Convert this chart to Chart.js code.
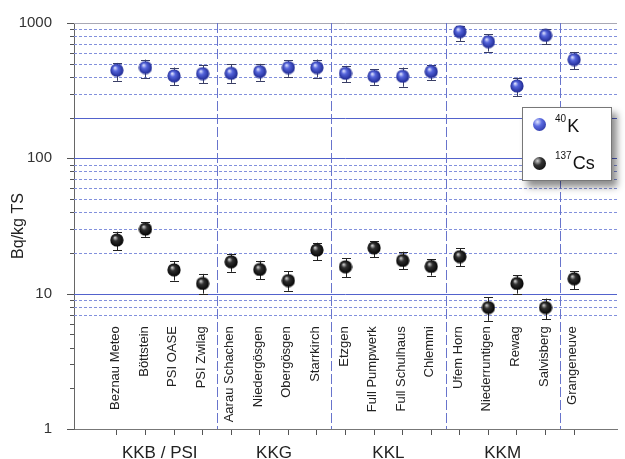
<!DOCTYPE html>
<html>
<head>
<meta charset="utf-8">
<script src="https://cdn.jsdelivr.net/npm/chart.js@4.4.0/dist/chart.umd.min.js"></script>
<style>
    body { margin: 0; background: #fff; }
    #wrap { position: relative; width: 625px; height: 459px; }
    .legend {
        position: absolute; left: 522px; top: 107px; width: 88px; height: 72px;
        background: #fff; border: 1px solid #777;
        box-shadow: 5px 6px 7px rgba(0, 0, 0, 0.45);
        font-family: "Liberation Sans", Arial, sans-serif; color: #111;
    }
    .legend .ball { position: absolute; width: 13px; height: 13px; border-radius: 50%; }
    .legend .txt { position: absolute; font-size: 18px; line-height: 18px; white-space: nowrap; }
    .legend sup { font-size: 10px; vertical-align: 0; position: relative; top: -10px; margin-right: 1px; }
</style>
</head>
<body>
<div id="wrap">
    <canvas id="chart" width="625" height="459"></canvas>
    <div class="legend">
        <div class="ball" style="left:10px;top:10px;background:radial-gradient(circle at 35% 30%, #dfe4ff 0%, #5a6ae0 35%, #1c2690 100%);"></div>
        <div class="txt" style="left:32px;top:9px;"><sup>40</sup>K</div>
        <div class="ball" style="left:10px;top:49px;background:radial-gradient(circle at 35% 30%, #d0d0d0 0%, #333 35%, #000 100%);"></div>
        <div class="txt" style="left:32px;top:46px;"><sup>137</sup>Cs</div>
    </div>
</div>
<script>
// categories (Messorte) and groups (Kernkraftwerke)
const categories = ['Beznau Meteo', 'Böttstein', 'PSI OASE', 'PSI Zwilag',
    'Aarau Schachen', 'Niedergösgen', 'Obergösgen', 'Starrkirch',
    'Etzgen', 'Full Pumpwerk', 'Full Schulhaus', 'Chlemmi',
    'Ufem Horn', 'Niederruntigen', 'Rewag', 'Salvisberg', 'Grangeneuve'];
const groups = ['KKB / PSI', 'KKG', 'KKL', 'KKM'];
const groupCenters = [1.5, 5.5, 9.5, 13.5];
const groupBreaks = [3.5, 7.5, 11.5, 15.5];

// 40K values with error range
const k40 = [448, 469, 407, 423, 425, 438, 469, 469, 425, 404, 404, 438, 863, 728, 343, 811, 537];
const k40Low = [374, 395, 347, 359, 361, 374, 400, 395, 365, 349, 338, 378, 737, 615, 288, 697, 456];
const k40High = [507, 537, 469, 488, 496, 499, 530, 537, 482, 456, 469, 488, 951, 825, 395, 903, 611];

// 137Cs values with error range
const cs137 = [24.9, 30, 15, 11.9, 17.2, 15.1, 12.5, 21, 15.8, 21.8, 17.6, 15.9, 18.8, 7.9, 11.9, 7.9, 12.9];
const cs137Low = [21, 26.3, 12.5, 10, 14.5, 12.8, 10.5, 17.7, 13.2, 18.6, 15.1, 13.6, 16, 6.3, 10, 6.5, 10.8];
const cs137High = [28.7, 33.6, 17.4, 14, 19.7, 17.5, 14.7, 23.8, 18.2, 24.4, 20.4, 17.9, 21.6, 9.4, 13.7, 9.2, 14.7];

// y axis ticks and grid lines
const yTicks = [1, 2, 3, 4, 5, 6, 7, 8, 9, 10, 20, 30, 40, 50, 60, 70, 80, 90,
    100, 200, 300, 400, 500, 600, 700, 800, 900, 1000];
const yLabels = [1, 10, 100, 1000];
const solidLines = [10, 100, 200];
const dottedLines = [7, 8, 9, 20, 30, 40, 50, 60, 70, 80, 90, 300, 400, 500, 600, 700, 800, 900];

const FONT = '"Liberation Sans", Arial, sans-serif';

// kugel als punkt
function makeBall(light, mid, dark) {
    const c = document.createElement('canvas');
    c.width = c.height = 14;
    const g = c.getContext('2d');
    const grad = g.createRadialGradient(5, 4.5, 0.3, 7, 7, 7);
    grad.addColorStop(0, light);
    grad.addColorStop(0.35, mid);
    grad.addColorStop(1, dark);
    g.fillStyle = grad;
    g.beginPath();
    g.arc(7, 7, 6.6, 0, Math.PI * 2);
    g.fill();
    return c;
}
const blueBall = makeBall('#e2e6ff', '#5565dc', '#1a248c');
const blackBall = makeBall('#d4d4d4', '#303030', '#000000');

const toPoints = arr => arr.map((v, i) => ({ x: i, y: v }));

// gitter, trennlinien, beschriftung und fehlerbalken
const decorPlugin = {
    id: 'decor',
    beforeDatasetsDraw(chart) {
        const { ctx, chartArea: a, scales: { x, y } } = chart;
        ctx.save();

        // horizontale linien
        ctx.lineWidth = 1;
        ctx.strokeStyle = '#8290dc';
        ctx.setLineDash([3, 2]);
        dottedLines.forEach(v => {
            const py = Math.round(y.getPixelForValue(v)) + 0.5;
            ctx.beginPath(); ctx.moveTo(a.left, py); ctx.lineTo(a.right, py); ctx.stroke();
        });
        ctx.setLineDash([]);
        ctx.strokeStyle = '#5262cc';
        solidLines.forEach(v => {
            const py = Math.round(y.getPixelForValue(v)) + 0.5;
            ctx.beginPath(); ctx.moveTo(a.left, py); ctx.lineTo(a.right, py); ctx.stroke();
        });
        // oberer rand
        const top = Math.round(y.getPixelForValue(1000)) + 0.5;
        ctx.strokeStyle = '#a8a8b4';
        ctx.beginPath(); ctx.moveTo(a.left, top); ctx.lineTo(a.right, top); ctx.stroke();

        // gruppen-trennlinien
        ctx.strokeStyle = '#6874cc';
        ctx.setLineDash([10, 3]);
        groupBreaks.forEach(v => {
            const px = Math.round(x.getPixelForValue(v)) + 0.5;
            ctx.beginPath(); ctx.moveTo(px, a.top); ctx.lineTo(px, a.bottom); ctx.stroke();
        });
        ctx.setLineDash([]);

        // y ticks (lang fuer dekaden)
        ctx.strokeStyle = '#555';
        yTicks.forEach(v => {
            const py = Math.round(y.getPixelForValue(v)) + 0.5;
            const len = yLabels.includes(v) ? 7 : 4;
            ctx.beginPath(); ctx.moveTo(a.left - len, py); ctx.lineTo(a.left, py); ctx.stroke();
        });

        // ortsnamen senkrecht
        ctx.fillStyle = '#222';
        ctx.font = '13px ' + FONT;
        ctx.textAlign = 'right';
        ctx.textBaseline = 'middle';
        const labelTop = y.getPixelForValue(5.75);
        categories.forEach((name, i) => {
            ctx.save();
            ctx.translate(x.getPixelForValue(i) - 1.5, labelTop);
            ctx.rotate(-Math.PI / 2);
            ctx.fillText(name, 0, 0);
            ctx.restore();
        });

        // fehlerbalken
        chart.data.datasets.forEach(ds => {
            ctx.strokeStyle = ds.errColor;
            ds.low.forEach((lo, i) => {
                const px = Math.round(x.getPixelForValue(i)) + 0.5;
                const y1 = y.getPixelForValue(lo);
                const y2 = y.getPixelForValue(ds.high[i]);
                ctx.beginPath();
                ctx.moveTo(px, y1); ctx.lineTo(px, y2);
                ctx.moveTo(px - 4.5, Math.round(y1) + 0.5); ctx.lineTo(px + 4.5, Math.round(y1) + 0.5);
                ctx.moveTo(px - 4.5, Math.round(y2) + 0.5); ctx.lineTo(px + 4.5, Math.round(y2) + 0.5);
                ctx.stroke();
            });
        });

        ctx.restore();
    }
};

new Chart(document.getElementById('chart'), {
    type: 'scatter',
    data: {
        datasets: [
            { label: '40K', data: toPoints(k40), low: k40Low, high: k40High, errColor: '#3a3f66',
              pointStyle: blueBall, pointRadius: 7, pointHoverRadius: 7 },
            { label: '137Cs', data: toPoints(cs137), low: cs137Low, high: cs137High, errColor: '#222',
              pointStyle: blackBall, pointRadius: 7, pointHoverRadius: 7 }
        ]
    },
    options: {
        responsive: false,
        animation: false,
        devicePixelRatio: 1,
        layout: { padding: { top: 22, left: 0, right: 0, bottom: 0 } },
        plugins: { legend: { display: false }, tooltip: { enabled: false } },
        scales: {
            x: {
                type: 'linear',
                min: -1.5,
                max: 17.5,
                afterBuildTicks: scale => {
                    const vals = categories.map((c, i) => i).concat(groupCenters);
                    scale.ticks = vals.sort((p, q) => p - q).map(v => ({ value: v }));
                },
                afterFit: scale => { scale.height = 30; },
                ticks: {
                    autoSkip: false,
                    maxRotation: 0,
                    padding: 8,
                    color: '#222',
                    font: { family: FONT, size: 17 },
                    callback: v => {
                        const g = groupCenters.indexOf(v);
                        return g >= 0 ? groups[g] : '';
                    }
                },
                grid: {
                    drawOnChartArea: false,
                    tickLength: 6,
                    tickColor: ctx => Number.isInteger(ctx.tick.value) ? '#555' : 'rgba(0,0,0,0)'
                },
                border: { color: '#777', width: 1 }
            },
            y: {
                type: 'logarithmic',
                min: 1,
                max: 1000,
                afterBuildTicks: scale => { scale.ticks = yTicks.map(v => ({ value: v })); },
                afterFit: scale => { scale.width = 74; },
                ticks: {
                    autoSkip: false,
                    padding: 14,
                    color: '#333',
                    font: { family: FONT, size: 15 },
                    callback: v => yLabels.includes(v) ? String(v) : ''
                },
                grid: { display: false },
                border: { color: '#666', width: 1 },
                title: {
                    display: true,
                    text: 'Bq/kg TS',
                    color: '#222',
                    font: { family: FONT, size: 16 },
                    padding: { top: 9, bottom: 0 }
                }
            }
        }
    },
    plugins: [decorPlugin]
});
</script>
</body>
</html>
